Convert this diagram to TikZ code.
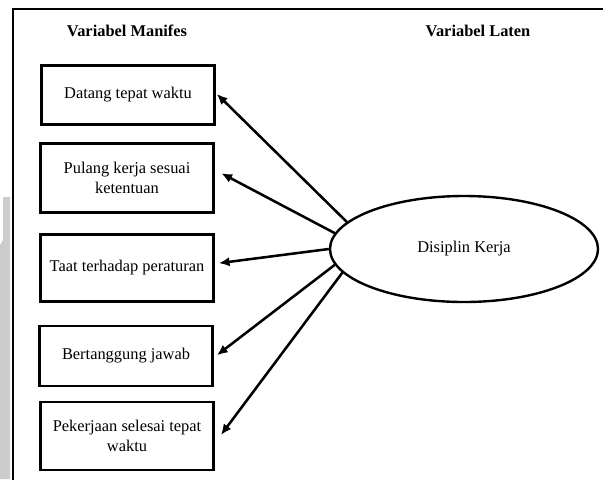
\documentclass[tikz,border=0pt]{standalone}
\usepackage{fontspec}
\setmainfont{Liberation Serif}
\usetikzlibrary{arrows.meta,shapes.geometric}
\begin{document}
\begin{tikzpicture}[x=0.75pt,y=-0.75pt,
  manifest/.style={draw,line width=1.8pt,minimum width=130pt,align=center,
    inner sep=2pt,font=\fontsize{12.3pt}{14.5pt}\selectfont},
  latent/.style={draw,ellipse,line width=1.8pt,minimum width=201pt,
    minimum height=79.5pt,inner sep=0pt,font=\fontsize{12.3pt}{14.5pt}\selectfont},
  heading/.style={font=\fontsize{12.3pt}{14.5pt}\selectfont\bfseries},
  load/.style={line width=1.9pt,-{Latex[length=8pt,width=7pt]},shorten >=1pt}]
\useasboundingbox (0,0) rectangle (603,479);
% scanned page edge
\fill[black!20] (3,197) -- (10,197) -- (10,479) -- (0,479) -- (0,245) -- (3,240) -- cycle;
% outer frame
\draw[line width=1.8pt] (13,490) -- (13,9) -- (615,9);
% headings
\node[heading] (hm) at (127,31) {Variabel Manifes};
\node[heading] (hl) at (478,31) {Variabel Laten};
% indicators
\node[manifest,minimum height=44pt] (b1) at (128,95) {Datang tepat waktu};
\node[manifest,minimum height=52pt] (b2) at (127,178) {Pulang kerja sesuai\\ketentuan};
\node[manifest,minimum height=50pt] (b3) at (127,268) {Taat terhadap peraturan};
\node[manifest,minimum height=45pt] (b4) at (126,356) {Bertanggung jawab};
\node[manifest,minimum height=51pt] (b5) at (127,436) {Pekerjaan selesai tepat\\waktu};
% construct
\node[latent] (lv) at (464,249) {Disiplin Kerja};
% loadings
\draw[load] (lv.167) -- ([yshift=1.5pt]b1.east);
\draw[load] (lv.173) -- ([xshift=4pt,yshift=4pt]b2.east);
\draw[load] (lv.180.5) -- ([xshift=2pt,yshift=3.5pt]b3.east);
\draw[load] (lv.187) -- ([xshift=1.5pt]b4.east);
\draw[load] (lv.191) -- ([xshift=4pt,yshift=0pt]b5.east);
\end{tikzpicture}
\end{document}
